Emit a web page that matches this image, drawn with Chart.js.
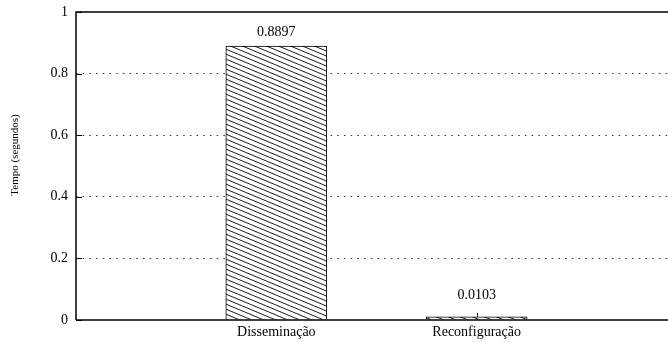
<!DOCTYPE html>
<html>
<head>
<meta charset="utf-8">
<script src="https://cdn.jsdelivr.net/npm/chart.js@4/dist/chart.umd.min.js"></script>
<style>
html,body{margin:0;padding:0;background:#fff;overflow:hidden;width:668px;height:342px;}
#wrap{width:690px;height:342px;}
</style>
</head>
<body>
<div id="wrap"><canvas id="c" width="690" height="342"></canvas></div>
<script>
const categories = ['Disseminação', 'Reconfiguração'];
const values = [0.8897, 0.0103];
const valueLabels = ['0.8897', '0.0103'];
const yTicks = [0, 0.2, 0.4, 0.6, 0.8, 1];
const yTickLabels = ['0', '0.2', '0.4', '0.6', '0.8', '1'];
const yTitle = 'Tempo (segundos)';

const FONT = '"Liberation Serif", "Times New Roman", serif';

function makeHatch() {
  const w = 12, h = 5;
  const t = document.createElement('canvas');
  t.width = w; t.height = h;
  const g = t.getContext('2d');
  g.fillStyle = '#fff';
  g.fillRect(0, 0, w, h);
  g.strokeStyle = '#000';
  g.lineWidth = 0.9;
  g.beginPath();
  g.moveTo(-w, -h); g.lineTo(2 * w, 2 * h);
  g.moveTo(-w, 0); g.lineTo(2 * w, 3 * h);
  g.moveTo(-w, -2 * h); g.lineTo(2 * w, h);
  g.stroke();
  return document.getElementById('c').getContext('2d').createPattern(t, 'repeat');
}

const labels = [''].concat(categories).concat(['']);
const data = [null].concat(values).concat([null]);

const framePlugin = {
  id: 'frame',
  beforeDatasetsDraw(chart) {
    const {ctx, chartArea: a, scales: {x, y}} = chart;
    ctx.save();
    ctx.strokeStyle = '#000';
    ctx.lineWidth = 1;
    yTicks.forEach(v => {
      const py = Math.round(y.getPixelForValue(v)) + 0.5;
      ctx.beginPath(); ctx.moveTo(a.left, py); ctx.lineTo(a.left + 6, py); ctx.stroke();
    });
    categories.forEach((c, i) => {
      const px = Math.round(x.getPixelForValue(i + 1)) + 0.5;
      ctx.beginPath(); ctx.moveTo(px, a.bottom); ctx.lineTo(px, a.bottom - 7); ctx.stroke();
    });
    ctx.restore();
  },
  afterDatasetsDraw(chart) {
    const {ctx, chartArea: a, scales: {x, y}} = chart;
    ctx.save();
    ctx.strokeStyle = '#000';
    ctx.lineWidth = 1.5;
    ctx.beginPath();
    ctx.moveTo(a.left, a.bottom); ctx.lineTo(a.left, a.top); ctx.lineTo(chart.width, a.top);
    ctx.moveTo(a.left, a.bottom); ctx.lineTo(chart.width, a.bottom);
    ctx.stroke();
    ctx.fillStyle = '#000';
    ctx.font = '14px ' + FONT;
    ctx.textAlign = 'center';
    ctx.textBaseline = 'middle';
    values.forEach((v, i) => {
      const px = x.getPixelForValue(i + 1);
      const py = Math.min(y.getPixelForValue(v) - 14, a.bottom - 25);
      ctx.fillText(valueLabels[i], px, py);
    });
    ctx.font = '11px ' + FONT;
    ctx.translate(15, 155);
    ctx.rotate(-Math.PI / 2);
    ctx.fillText(yTitle, 0, 0);
    ctx.restore();
  }
};

new Chart(document.getElementById('c'), {
  type: 'bar',
  data: {
    labels: labels,
    datasets: [{
      data: data,
      backgroundColor: makeHatch(),
      borderColor: '#000',
      borderWidth: 1,
      barThickness: 101
    }]
  },
  options: {
    responsive: false,
    animation: false,
    devicePixelRatio: 1,
    layout: {padding: {top: 12, right: 13, left: 0, bottom: 0}},
    plugins: {legend: {display: false}, tooltip: {enabled: false}},
    scales: {
      x: {
        offset: false,
        grid: {display: false, drawTicks: false},
        border: {display: false},
        ticks: {
          color: '#000',
          font: {family: FONT, size: 14},
          padding: 4,
          autoSkip: false,
          maxRotation: 0
        },
        afterFit(s) { s.height = 22; s.paddingLeft = 0; s.paddingRight = 0; }
      },
      y: {
        min: 0, max: 1,
        afterBuildTicks(s) { s.ticks = yTicks.map(v => ({value: v})); },
        grid: {
          drawTicks: false,
          color: (c) => (c.tick && (c.tick.value === 0 || c.tick.value === 1)) ? 'rgba(0,0,0,0)' : '#333',
          lineWidth: 1
        },
        border: {display: false, dash: [1.5, 5.2]},
        ticks: {
          color: '#000',
          font: {family: FONT, size: 14},
          padding: 8,
          callback: (v, i) => yTickLabels[i]
        },
        afterFit(s) { s.width = 76; s.paddingTop = 0; s.paddingBottom = 0; }
      }
    }
  },
  plugins: [framePlugin]
});
</script>
</body>
</html>
